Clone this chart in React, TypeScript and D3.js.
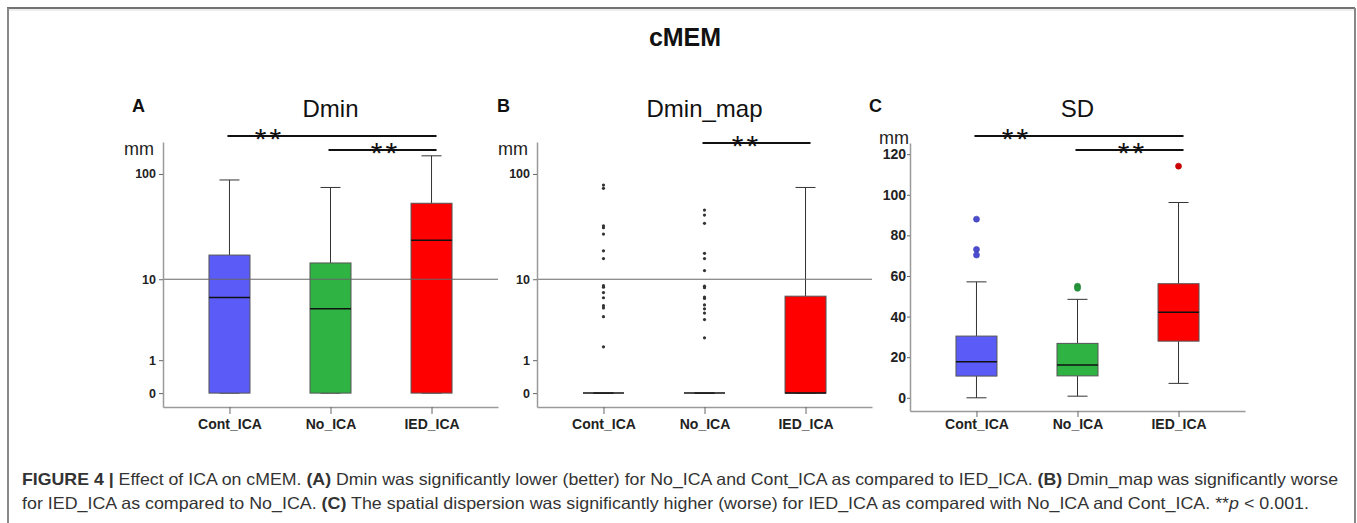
import React, { useEffect, useRef } from "react";
import * as d3 from "d3";

const groups = ["Cont_ICA", "No_ICA", "IED_ICA"];
const groupColors = ["#5b5cf7", "#2fb444", "#ff0000"];
const outlierColors = ["#4b4cd0", "#25973b", "#d00000"];

// five number summaries: [min, q1, median, q3, max]
const dminStats = [
  [0, 0, 6.5, 17.3, 88],
  [0, 0, 4.9, 14.5, 75],
  [0, 0, 24, 53.5, 147],
];

const dminMapStats = [
  [0, 0, 0, 0, 0],
  [0, 0, 0, 0, 0],
  [0, 0, 0, 6.7, 75],
];

const dminMapOutliers = [
  [79, 73.6, 32.9, 31.6, 27.5, 19, 16, 8.6, 8.3, 7.3, 6.45, 5.3, 5.0, 4.0, 1.65],
  [46.2, 41.5, 34.7, 18, 16, 12.2, 8.5, 8.2, 6.55, 6.35, 5.4, 4.9, 4.4, 3.7, 2.2],
  [],
];

const sdStats = [
  [0, 10.7, 17.7, 30.4, 57.1],
  [0.8, 10.8, 16.1, 26.8, 48.5],
  [7.1, 27.9, 42.1, 56.2, 96.2],
];

const sdOutliers = [[88, 73.1, 70.3], [55, 53.9], [114.1]];

const logTicks = [0, 1, 10, 100];
const sdTicks = [0, 20, 40, 60, 80, 100, 120];

// significance brackets (from group -> to group)
const dminSig = [["Cont_ICA", "IED_ICA"], ["No_ICA", "IED_ICA"]];
const dminMapSig = [["No_ICA", "IED_ICA"]];
const sdSig = [["Cont_ICA", "IED_ICA"], ["No_ICA", "IED_ICA"]];

const font = "'Liberation Sans', Arial, Helvetica, sans-serif";

const drawPanel = (svg, p) => {
  const g = svg.append("g");
  const axisLen = 335;
  const boxW = 41;

  const x = d3
    .scalePoint()
    .domain(groups)
    .range([p.left, p.left + axisLen])
    .padding(0.658);
  const y = p.y;

  // boxes + whiskers
  p.stats.forEach((s, i) => {
    const cx = x(groups[i]);
    const [mn, q1, med, q3, mx] = s;
    const wg = g.append("g");
    wg.append("line")
      .attr("x1", cx).attr("x2", cx)
      .attr("y1", y(mx)).attr("y2", y(q3))
      .attr("stroke", "#333").attr("stroke-width", 1);
    wg.append("line")
      .attr("x1", cx).attr("x2", cx)
      .attr("y1", y(q1)).attr("y2", y(mn))
      .attr("stroke", "#333").attr("stroke-width", 1);
    [mn, mx].forEach((v) => {
      wg.append("line")
        .attr("x1", cx - 10).attr("x2", cx + 10)
        .attr("y1", y(v)).attr("y2", y(v))
        .attr("stroke", "#333").attr("stroke-width", 1);
    });
    wg.append("rect")
      .attr("x", cx - boxW / 2)
      .attr("y", y(q3))
      .attr("width", boxW)
      .attr("height", Math.max(0, y(q1) - y(q3)))
      .attr("fill", groupColors[i])
      .attr("stroke", "#555")
      .attr("stroke-width", 1);
    wg.append("line")
      .attr("x1", cx - boxW / 2).attr("x2", cx + boxW / 2)
      .attr("y1", y(med)).attr("y2", y(med))
      .attr("stroke", "#111").attr("stroke-width", 1.5);
  });

  // outliers
  if (p.outliers) {
    p.outliers.forEach((vals, i) => {
      g.selectAll(null)
        .data(vals)
        .enter()
        .append("circle")
        .attr("cx", x(groups[i]))
        .attr("cy", (d) => y(d))
        .attr("r", p.dots ? 1.6 : 3)
        .attr("fill", p.dots ? "#333" : outlierColors[i])
        .attr("stroke", p.dots ? "none" : d3.color(outlierColors[i]).darker(0.5))
        .attr("stroke-width", 0.6);
    });
  }

  // reference line at 10 mm
  if (p.refLine) {
    g.append("line")
      .attr("x1", p.left).attr("x2", p.left + axisLen)
      .attr("y1", y(10)).attr("y2", y(10))
      .attr("stroke", "#666").attr("stroke-width", 1);
  }

  // axes
  const baseY = y.range()[0];
  const xAxis = g
    .append("g")
    .attr("transform", `translate(0, ${baseY})`)
    .call(d3.axisBottom(x).tickSize(p.xTick).tickSizeOuter(0).tickPadding(p.xPad));
  xAxis.select(".domain").attr("stroke", "#9a9a9a").attr("stroke-width", 1.5);
  xAxis.selectAll(".tick line").attr("stroke", "#666");
  xAxis
    .selectAll(".tick text")
    .attr("font-family", font)
    .attr("font-size", 14)
    .attr("font-weight", "bold")
    .attr("fill", "#222");

  const yAxis = g
    .append("g")
    .attr("transform", `translate(${p.left}, 0)`)
    .call(
      d3
        .axisLeft(y)
        .tickValues(p.ticks)
        .tickFormat(d3.format("d"))
        .tickSize(p.yTick)
        .tickSizeOuter(0)
        .tickPadding(p.yPad)
    );
  yAxis.select(".domain").attr("stroke", "#9a9a9a").attr("stroke-width", 1.5);
  yAxis.selectAll(".tick line").attr("stroke", "#666");
  yAxis
    .selectAll(".tick text")
    .attr("font-family", font)
    .attr("font-size", p.tickFont)
    .attr("font-weight", "bold")
    .attr("fill", "#222");

  // unit
  g.append("text")
    .attr("x", p.left - p.mmOffset)
    .attr("y", p.mmY)
    .attr("text-anchor", "end")
    .attr("font-family", font)
    .attr("font-size", 18)
    .attr("fill", "#222")
    .text("mm");

  // panel letter + title
  g.append("text")
    .attr("x", p.letterX)
    .attr("y", 112)
    .attr("font-family", font)
    .attr("font-size", 18)
    .attr("font-weight", "bold")
    .attr("fill", "#111")
    .text(p.letter);

  g.append("text")
    .attr("x", x("No_ICA"))
    .attr("y", 117)
    .attr("text-anchor", "middle")
    .attr("font-family", font)
    .attr("font-size", 24)
    .attr("fill", "#111")
    .text(p.title);

  // significance bars
  const levels = p.sig.length === 1 ? [143] : [136, 150];
  p.sig.forEach(([a, b], k) => {
    const yy = levels[k];
    g.append("line")
      .attr("x1", x(a) - 2).attr("x2", x(b) + 5)
      .attr("y1", yy).attr("y2", yy)
      .attr("stroke", "#111").attr("stroke-width", 2);
    const ax = p.sig.length === 1 ? x(a) + 42 : k === 0 ? x(a) + 40 : x(a) + 55;
    g.append("text")
      .attr("x", ax)
      .attr("y", yy + 13)
      .attr("text-anchor", "middle")
      .attr("font-family", font)
      .attr("font-size", 30)
      .attr("letter-spacing", 3)
      .attr("fill", "#111")
      .text("**");
  });
};

const drawFigure = (node) => {
  const svg = d3.select(node);
  svg.selectAll("*").remove();

  // frame
  svg.append("rect").attr("width", 1357).attr("height", 523).attr("fill", "#fff");
  svg.append("line").attr("x1", 7).attr("x2", 1355).attr("y1", 8).attr("y2", 8)
    .attr("stroke", "#444").attr("stroke-width", 1.5);
  svg.append("line").attr("x1", 8).attr("x2", 1354).attr("y1", 10).attr("y2", 10)
    .attr("stroke", "#ddd").attr("stroke-width", 1);
  svg.append("line").attr("x1", 8).attr("x2", 8).attr("y1", 8).attr("y2", 523)
    .attr("stroke", "#888").attr("stroke-width", 2);
  svg.append("line").attr("x1", 1355).attr("x2", 1355).attr("y1", 8).attr("y2", 523)
    .attr("stroke", "#888").attr("stroke-width", 2);

  svg.append("text")
    .attr("x", 685)
    .attr("y", 46)
    .attr("text-anchor", "middle")
    .attr("font-family", font)
    .attr("font-size", 25)
    .attr("font-weight", "bold")
    .attr("fill", "#111")
    .text("cMEM");

  const yLog = (top) =>
    d3.scaleSymlog().constant(1).domain([-0.34, 197]).range([407, top]);

  drawPanel(svg, {
    left: 163, y: yLog(142), ticks: logTicks, stats: dminStats,
    refLine: true, letter: "A", letterX: 132, title: "Dmin", sig: dminSig,
    xTick: 7, xPad: 5, yTick: 4, yPad: 3, tickFont: 12.5, mmOffset: 9, mmY: 155,
  });
  drawPanel(svg, {
    left: 537, y: yLog(142), ticks: logTicks, stats: dminMapStats,
    outliers: dminMapOutliers, dots: true,
    refLine: true, letter: "B", letterX: 497, title: "Dmin_map", sig: dminMapSig,
    xTick: 7, xPad: 5, yTick: 4, yPad: 3, tickFont: 12.5, mmOffset: 9, mmY: 155,
  });
  drawPanel(svg, {
    left: 910, y: d3.scaleLinear().domain([-6.5, 125.5]).range([411, 143]),
    ticks: sdTicks, stats: sdStats, outliers: sdOutliers, dots: false,
    refLine: false, letter: "C", letterX: 869, title: "SD", sig: sdSig,
    xTick: 6, xPad: 2, yTick: 3, yPad: 1, tickFont: 14, mmOffset: 1, mmY: 144,
  });

  // caption
  const capFont = "'Liberation Sans Narrow', 'Liberation Sans', Arial, sans-serif";
  const lines = [
    {
      y: 485,
      len: 1316,
      parts: [
        ["FIGURE 4 |", "bold", "normal"],
        [" Effect of ICA on cMEM. ", "normal", "normal"],
        ["(A)", "bold", "normal"],
        [" Dmin was significantly lower (better) for No_ICA and Cont_ICA as compared to IED_ICA. ", "normal", "normal"],
        ["(B)", "bold", "normal"],
        [" Dmin_map was significantly worse", "normal", "normal"],
      ],
    },
    {
      y: 509,
      len: 1287,
      parts: [
        ["for IED_ICA as compared to No_ICA. ", "normal", "normal"],
        ["(C)", "bold", "normal"],
        [" The spatial dispersion was significantly higher (worse) for IED_ICA as compared with No_ICA and Cont_ICA. **", "normal", "normal"],
        ["p", "normal", "italic"],
        [" < 0.001.", "normal", "normal"],
      ],
    },
  ];
  lines.forEach((ln) => {
    const t = svg.append("text")
      .attr("x", 22)
      .attr("y", ln.y)
      .attr("font-family", capFont)
      .attr("font-size", 16.5)
      .attr("fill", "#333")
      .attr("textLength", ln.len)
      .attr("lengthAdjust", "spacingAndGlyphs")
      .style("white-space", "pre");
    ln.parts.forEach(([txt, w, st]) => {
      t.append("tspan").attr("font-weight", w).attr("font-style", st).text(txt);
    });
  });
};

const App = () => {
  const ref = useRef(null);
  useEffect(() => {
    if (ref.current) drawFigure(ref.current);
  }, []);
  return (
    <svg
      ref={ref}
      width={1357}
      height={523}
      style={{ position: "absolute", left: 0, top: 0, display: "block" }}
    ></svg>
  );
};

export default App;
